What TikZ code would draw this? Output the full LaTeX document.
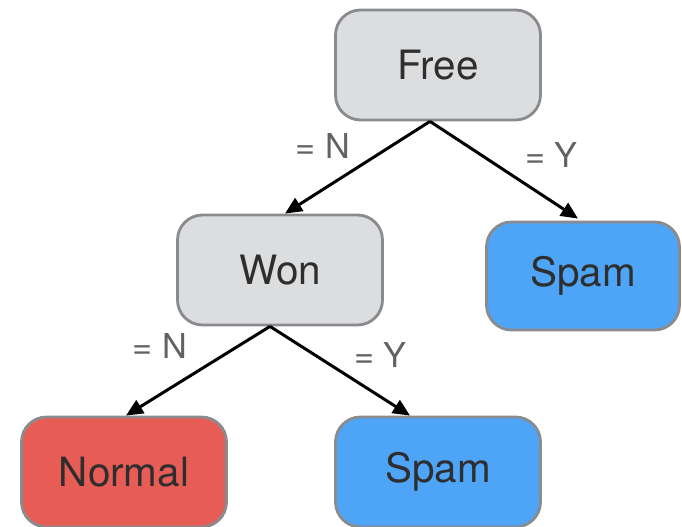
\documentclass[tikz,border=0pt]{standalone}
\usepackage{fontspec}
\setmainfont{TeX Gyre Heros}
\usepackage{tikz}
\usetikzlibrary{arrows.meta,positioning}
\usepackage{xcolor}
\definecolor{testgray}{HTML}{DCDDDF}
\definecolor{edgegray}{HTML}{8A8B8E}
\definecolor{spamblue}{HTML}{4EA5F7}
\definecolor{normalred}{HTML}{E85C56}
\definecolor{textgray}{HTML}{2E2E2E}

\begin{document}
\begin{tikzpicture}[
    box/.style={rectangle, draw=edgegray, line width=1.6pt, rounded corners=0.5cm, text centered, minimum width=4.1cm, minimum height=2.2cm, font=\fontsize{23}{26}\selectfont, text=textgray},
    test/.style={box, fill=testgray},
    leaf/.style={box, fill=spamblue},
    arrow/.style={-{Triangle[length=0.34cm, width=0.3cm]}, line width=1.7pt, draw=black},
    cond/.style={font=\fontsize{19.5}{22}\selectfont, text=textgray!75}
]
\useasboundingbox (0,0) rectangle (13.64,10.54);

\node[test] (free) at (8.76,9.24) {Free};
\node[test] (won) at (5.6,5.14) {Won};
\node[leaf, minimum width=3.86cm, minimum height=2.16cm] (spamtop) at (11.66,5.02) {Spam};
\node[box, fill=normalred] (normal) at (2.48,1.1) {Normal};
\node[leaf] (spambot) at (8.76,1.1) {Spam};

\draw[arrow] ([xshift=-0.16cm]free.south) -- node[cond, above left=1pt and 0pt] {= N} ([xshift=0.1cm]won.north);
\draw[arrow] ([xshift=-0.16cm]free.south) -- node[cond, above right=-3pt and 8pt] {= Y} ([xshift=-0.1cm, yshift=0.04cm]spamtop.north);
\draw[arrow] ([xshift=-0.2cm]won.south) -- node[cond, above left=3pt and 2pt] {= N} ([xshift=0.04cm]normal.north);
\draw[arrow] ([xshift=-0.2cm]won.south) -- node[cond, above right=-2pt and 4pt] {= Y} ([xshift=-0.56cm]spambot.north);
\end{tikzpicture}
\end{document}
